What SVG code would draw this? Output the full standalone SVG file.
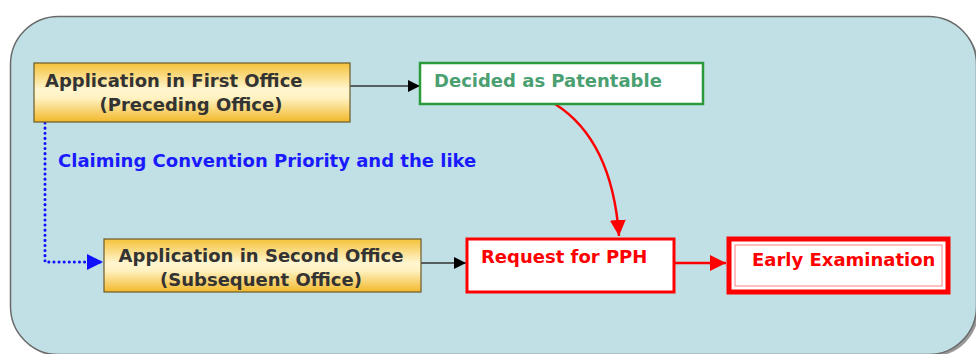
<svg xmlns="http://www.w3.org/2000/svg" width="976" height="354" viewBox="0 0 976 354">
<style>
.t{font-family:"DejaVu Sans",Verdana,sans-serif;font-weight:bold;font-size:18px}
.dark{fill:#333}
.ybox{fill:url(#yg);stroke:#6b5a2a;stroke-width:1.2}
</style>
<defs>
<linearGradient id="yg" x1="0" y1="0" x2="0" y2="1">
<stop offset="0" stop-color="#f5c23a"/>
<stop offset="0.45" stop-color="#fff6d0"/>
<stop offset="0.6" stop-color="#fff1c0"/>
<stop offset="1" stop-color="#f2b82a"/>
</linearGradient>
<marker id="ab" viewBox="0 0 10 10" refX="10" refY="5" markerWidth="12" markerHeight="12" markerUnits="userSpaceOnUse" orient="auto"><path d="M0,0 L10,5 L0,10 z" fill="#000"/></marker>
<marker id="ar" viewBox="0 0 10 10" refX="10" refY="5" markerWidth="16" markerHeight="16" markerUnits="userSpaceOnUse" orient="auto"><path d="M0,0 L10,5 L0,10 z" fill="#ff0000"/></marker>
<marker id="abl" viewBox="0 0 10 10" refX="10" refY="5" markerWidth="16" markerHeight="16" markerUnits="userSpaceOnUse" orient="auto"><path d="M0,0 L10,5 L0,10 z" fill="#1010ff"/></marker>
</defs>
<g id="background">
<rect x="13" y="19" width="966" height="338" rx="48" fill="#555" opacity="0.6"/>
<rect x="10.5" y="16.5" width="966" height="338" rx="48" fill="#c1e0e5" stroke="#6a6a6a" stroke-width="1.5"/>
</g>
<g id="connectors">
<line x1="350" y1="86" x2="420" y2="86" stroke="#333" stroke-width="1.5" marker-end="url(#ab)"/>
<line x1="421" y1="263" x2="466" y2="263" stroke="#333" stroke-width="1.5" marker-end="url(#ab)"/>
<line x1="674" y1="263" x2="726" y2="263" stroke="#ff0000" stroke-width="2.5" marker-end="url(#ar)"/>
<path d="M555,104 Q612,140 619,236" fill="none" stroke="#ff0000" stroke-width="2.5" marker-end="url(#ar)"/>
<path d="M45,123 L45,262 L103,262" fill="none" stroke="#1010ff" stroke-width="3" stroke-dasharray="0.1 5" stroke-linecap="round" marker-end="url(#abl)"/>
<text class="t" x="58" y="167" fill="#1a1aff">Claiming Convention Priority and the like</text>
</g>
<g id="node-first-office">
<rect class="ybox" x="34" y="63" width="316" height="59"/>
<text class="t dark" x="45" y="87">Application in First Office</text>
<text class="t dark" x="191" y="111" text-anchor="middle">(Preceding Office)</text>
</g>
<g id="node-patentable">
<rect x="420" y="63" width="283" height="41" fill="#fff" stroke="#2a9a3a" stroke-width="2.5"/>
<text class="t" x="434" y="87" fill="#4aa070">Decided as Patentable</text>
</g>
<g id="node-second-office">
<rect class="ybox" x="104" y="239" width="317" height="53"/>
<text class="t dark" x="261" y="262" text-anchor="middle">Application in Second Office</text>
<text class="t dark" x="261" y="286" text-anchor="middle">(Subsequent Office)</text>
</g>
<g id="node-pph">
<rect x="467" y="239" width="207" height="53" fill="#fff" stroke="#ff0000" stroke-width="3"/>
<text class="t" x="481" y="263" fill="#ff0000">Request for PPH</text>
</g>
<g id="node-early">
<rect x="729" y="239" width="219" height="53" fill="#fff" stroke="#ff0000" stroke-width="5"/>
<rect x="735" y="245" width="207" height="41" fill="none" stroke="#ff8080" stroke-width="1"/>
<text class="t" x="752" y="266" fill="#ff0000">Early Examination</text>
</g>
</svg>
